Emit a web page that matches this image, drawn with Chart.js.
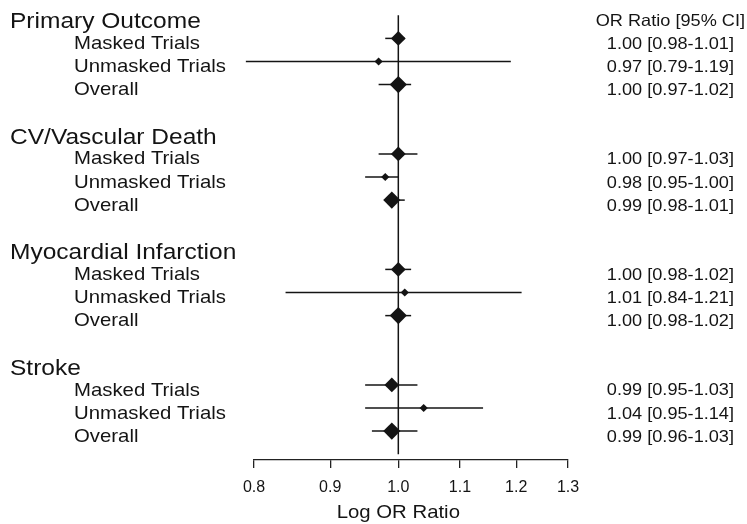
<!DOCTYPE html>
<html>
<head>
<meta charset="utf-8">
<title>Log OR Ratio forest plot</title>
<script src="https://cdn.jsdelivr.net/npm/chart.js@4/dist/chart.umd.min.js"></script>
<style>
  html, body { margin: 0; padding: 0; background: #fff; }
  #wrap { width: 747px; height: 524px; position: relative; }
</style>
</head>
<body>
<div id="wrap"><canvas id="forest"></canvas></div>
<script>
// Outcome groups and the subgroups reported within each
const outcomes = ['Primary Outcome', 'CV/Vascular Death', 'Myocardial Infarction', 'Stroke'];
const subgroups = ['Masked Trials', 'Unmasked Trials', 'Overall'];

// OR ratio and 95% CI, in outcome order, three subgroups each
const orRatio = [1.00, 0.97, 1.00,  1.00, 0.98, 0.99,  1.00, 1.01, 1.00,  0.99, 1.04, 0.99];
const ciLower = [0.98, 0.79, 0.97,  0.97, 0.95, 0.98,  0.98, 0.84, 0.98,  0.95, 0.95, 0.96];
const ciUpper = [1.01, 1.19, 1.02,  1.03, 1.00, 1.01,  1.02, 1.21, 1.02,  1.03, 1.14, 1.03];

// x-axis tick values
const xTicks = [0.8, 0.9, 1.0, 1.1, 1.2, 1.3];

const columnHeader = 'OR Ratio [95% CI]';
const axisTitle = 'Log OR Ratio';

// ---- layout helpers ----
const ROWS_PER_GROUP = subgroups.length + 2;     // header, subgroups, spacer
const rowOf = (g, s) => g * ROWS_PER_GROUP + 1 + s;
const headerRowOf = g => g * ROWS_PER_GROUP;
const lastRow = rowOf(outcomes.length - 1, subgroups.length - 1);

const markerRadius = [7.4, 4.1, 8.6];   // masked, unmasked, overall
const INK = '#141414';
const FONT = '"Liberation Sans", Arial, Helvetica, sans-serif';
const H_STRETCH = 1.1;

const points = [];
const radii = [];
outcomes.forEach((_, g) => {
  subgroups.forEach((_, s) => {
    const i = g * subgroups.length + s;
    points.push({ x: orRatio[i], y: rowOf(g, s) });
    radii.push(markerRadius[s]);
  });
});

function drawText(ctx, str, x, y, size, align) {
  ctx.save();
  ctx.font = size + 'px ' + FONT;
  ctx.fillStyle = INK;
  ctx.textBaseline = 'middle';
  ctx.textAlign = align;
  ctx.translate(x, y);
  ctx.scale(H_STRETCH, 1);
  ctx.fillText(str, 0, 0);
  ctx.restore();
}

// reference line at OR = 1 and the CI whiskers
const whiskers = {
  id: 'whiskers',
  beforeDatasetsDraw(chart) {
    const { ctx, scales: { x, y } } = chart;
    ctx.save();
    ctx.strokeStyle = INK;
    ctx.lineCap = 'butt';

    ctx.lineWidth = 1.5;
    const xr = x.getPixelForValue(1.0);
    ctx.beginPath();
    ctx.moveTo(xr, y.getPixelForValue(0));
    ctx.lineTo(xr, y.getPixelForValue(lastRow + 1));
    ctx.stroke();

    ctx.lineWidth = 1.5;
    points.forEach((p, i) => {
      const py = y.getPixelForValue(p.y);
      ctx.beginPath();
      ctx.moveTo(x.getPixelForValue(ciLower[i]), py);
      ctx.lineTo(x.getPixelForValue(ciUpper[i]), py);
      ctx.stroke();
    });
    ctx.restore();
  }
};

// row labels, value column and axis title
const annotations = {
  id: 'annotations',
  afterDraw(chart) {
    const { ctx, scales: { x, y } } = chart;
    outcomes.forEach((name, g) => {
      drawText(ctx, name, 10, y.getPixelForValue(headerRowOf(g)) + 7, 22.3, 'left');
      subgroups.forEach((sub, s) => {
        const i = g * subgroups.length + s;
        const py = y.getPixelForValue(rowOf(g, s));
        drawText(ctx, sub, 74, py + 5.5, 18.5, 'left');
        const label = orRatio[i].toFixed(2) + ' [' + ciLower[i].toFixed(2) + '-' + ciUpper[i].toFixed(2) + ']';
        drawText(ctx, label, 734, py + 6, 16.5, 'right');
      });
    });
    drawText(ctx, columnHeader, 745, y.getPixelForValue(0) + 6.5, 16.5, 'right');
    drawText(ctx, axisTitle, x.getPixelForValue(1.0), 513, 18.5, 'center');
  }
};

new Chart(document.getElementById('forest'), {
  type: 'scatter',
  data: {
    datasets: [{
      data: points,
      pointStyle: 'rectRot',
      pointRadius: radii,
      pointHoverRadius: radii,
      backgroundColor: INK,
      borderColor: INK,
      borderWidth: 0
    }]
  },
  options: {
    responsive: true,
    maintainAspectRatio: false,
    animation: false,
    events: [],
    layout: { autoPadding: false, padding: { left: 254, right: 179, top: 0, bottom: 0 } },
    plugins: { legend: { display: false }, tooltip: { enabled: false }, title: { display: false } },
    scales: {
      x: {
        type: 'logarithmic',
        position: 'bottom',
        min: 0.8,
        max: 1.3,
        afterBuildTicks(scale) { scale.ticks = xTicks.map(v => ({ value: v })); },
        afterFit(scale) { scale.height = 64; },
        grid: { drawOnChartArea: false, drawTicks: true, tickLength: 8, color: '#222', lineWidth: 1.3 },
        border: { display: true, color: '#222', width: 1.3 },
        ticks: {
          color: INK,
          padding: 10,
          autoSkip: false,
          maxRotation: 0,
          font: { family: FONT, size: 16 },
          callback: v => Number(v).toFixed(1)
        }
      },
      y: {
        type: 'linear',
        display: false,
        reverse: true,
        min: -0.662,
        max: 19.25
      }
    }
  },
  plugins: [whiskers, annotations]
});
</script>
</body>
</html>
